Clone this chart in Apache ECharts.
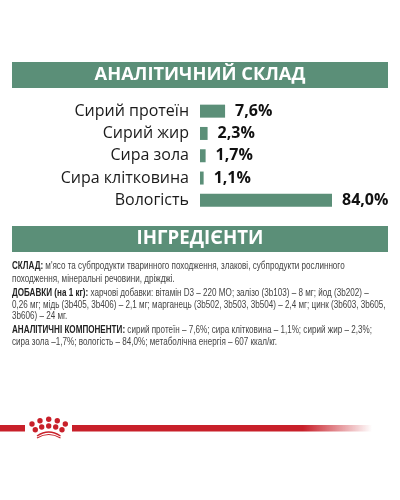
<!DOCTYPE html>
<html><head><meta charset="utf-8">
<style>html,body{margin:0;padding:0;background:#fff}#c{width:400px;height:500px}</style>
<script src="https://cdn.jsdelivr.net/npm/echarts@6/dist/echarts.min.js"></script>
</head><body><div id="c"></div>
<script>
const categories = ['Сирий протеїн','Сирий жир','Сира зола','Сира клітковина','Вологість'];
const values = [7.6,2.3,1.7,1.1,84.0];
const labels = ['7,6%','2,3%','1,7%','1,1%','84,0%'];
const heading1 = 'АНАЛІТИЧНИЙ СКЛАД';
const heading2 = 'ІНГРЕДІЄНТИ';
const textLines = [
 ['СКЛАД:',' м\'ясо та субпродукти тваринного походження, злакові, субпродукти рослинного',266],
 ['','походження, мінеральні речовини, дріжджі.',279],
 ['ДОБАВКИ (на 1 кг):',' харчові добавки: вітамін D3 – 220 МО; залізо (3b103) – 8 мг; йод (3b202) –',293],
 ['','0,26 мг; мідь (3b405, 3b406) – 2,1 мг; марганець (3b502, 3b503, 3b504) – 2,4 мг; цинк (3b603, 3b605,',305],
 ['','3b606) – 24 мг.',316],
 ['АНАЛІТИЧНІ КОМПОНЕНТИ:',' сирий протеїн – 7,6%; сира клітковина – 1,1%; сирий жир – 2,3%;',330],
 ['','сира зола –1,7%; вологість – 84,0%; метаболічна енергія – 607 ккал/кг.',342]
];
const GREEN='#5b8f78', RED='#c8202a', FONT='"Open Sans",sans-serif', BODY='"Liberation Sans",sans-serif';
const dots=[[32,424],[40,420.7],[48.7,419.3],[57.3,420.7],[65.3,424],[35.3,429.7],[41.7,427],[48.7,426],[55.7,427],[62,429.7]];
const graphic=[
 {type:'rect',shape:{x:12,y:62,width:376,height:26},style:{fill:GREEN}},
 {type:'rect',shape:{x:12,y:226,width:376,height:26},style:{fill:GREEN}},
 {type:'text',x:200,y:75,style:{text:heading1,fill:'#fff',font:'bold 18.3px '+FONT,align:'center',verticalAlign:'middle'}},
 {type:'text',x:200,y:239,style:{text:heading2,fill:'#fff',font:'bold 18.7px '+FONT,align:'center',verticalAlign:'middle'}},
 {type:'rect',shape:{x:0,y:425,width:25,height:6.5},style:{fill:RED}},
 {type:'rect',shape:{x:72,y:425,width:300,height:6.5},style:{fill:new echarts.graphic.LinearGradient(0,0,1,0,[{offset:0,color:RED},{offset:0.77,color:RED},{offset:1,color:'rgba(200,32,42,0)'}])}},
 {type:'bezierCurve',shape:{x1:37,y1:436,x2:60.5,y2:436,cpx1:48.7,cpy1:428},style:{stroke:RED,fill:null,lineWidth:1.3}},
 {type:'bezierCurve',shape:{x1:37,y1:438,x2:60.5,y2:438,cpx1:48.7,cpy1:431},style:{stroke:RED,fill:null,lineWidth:1.1}}
];
dots.forEach(d=>graphic.push({type:'circle',shape:{cx:d[0],cy:d[1],r:2.7},style:{fill:RED}}));
textLines.forEach(l=>graphic.push({type:'text',x:12,y:l[2],scaleX:0.81,style:{
  text:(l[0]?'{b|'+l[0]+'}':'')+'{n|'+l[1]+'}',verticalAlign:'middle',
  rich:{b:{font:'bold 10px '+BODY,fill:'#222'},n:{font:'10px '+BODY,fill:'#444'}}}}));
const chart=echarts.init(document.getElementById('c'),null,{renderer:'canvas'});
chart.setOption({
 animation:false,
 grid:{left:200,top:100,width:132,height:111.5},
 xAxis:{type:'value',min:0,max:40,show:false},
 yAxis:{type:'category',inverse:true,data:categories,axisLine:{show:false},axisTick:{show:false},
   axisLabel:{margin:11,fontFamily:FONT,fontSize:16,color:'#1a1a1a'}},
 series:[{type:'bar',data:values,barWidth:13,itemStyle:{color:GREEN},
   label:{show:true,position:'right',distance:10,fontFamily:FONT,fontWeight:'bold',fontSize:16,color:'#111',
     formatter:p=>labels[p.dataIndex]}}],
 graphic
});
</script></body></html>
